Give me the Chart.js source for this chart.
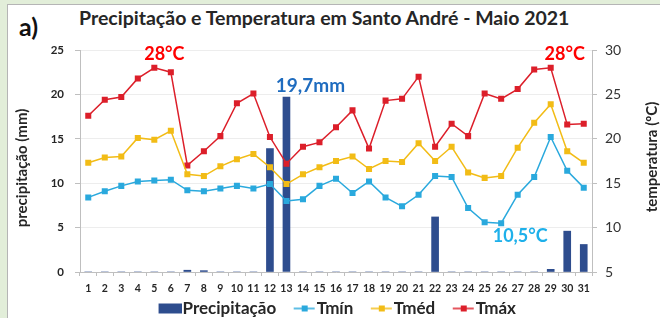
<!DOCTYPE html>
<html lang="pt">
<head>
<meta charset="UTF-8">
<title>Precipitação e Temperatura - Santo André</title>
<script src="https://cdn.jsdelivr.net/npm/chart.js"></script>
<style>
  body { margin: 0; width: 660px; height: 318px; overflow: hidden; background: #e2eed9; font-family: Lato, sans-serif; }
  #panel { position: absolute; left: 7px; top: 4px; right: 0; bottom: 0; background: #fff; border-left: 1px solid #b5b5b5; border-top: 1px solid #b5b5b5; }
  #chartBox { position: absolute; left: 0; top: 0; width: 660px; height: 318px; }
  #tag { position: absolute; left: 19px; top: 11px; font: bold 25px Lato, sans-serif; color: #111; }
  #title { position: absolute; left: 79px; top: 6px; font: bold 19.5px Lato, sans-serif; color: #262626; white-space: nowrap; }
</style>
</head>
<body>
<div id="panel"></div>
<div id="tag">a)</div>
<div id="title">Precipitação e Temperatura em Santo André - Maio 2021</div>
<div id="chartBox"><canvas id="chart" width="660" height="318"></canvas></div>

<script>
// days of May 2021
const days = ['1','2','3','4','5','6','7','8','9','10','11','12','13','14','15','16',
              '17','18','19','20','21','22','23','24','25','26','27','28','29','30','31'];

// precipitation (mm)
const precip = [0, 0, 0, 0, 0, 0, 0.2, 0.15, 0, 0, 0, 13.9, 19.7, 0, 0, 0,
                0, 0, 0, 0, 0, 6.2, 0, 0, 0, 0, 0, 0, 0.3, 4.6, 3.1];

// temperatures (ºC)
const tmin = [13.4, 14.1, 14.7, 15.2, 15.3, 15.4, 14.2, 14.1, 14.4, 14.7, 14.4, 14.9, 13.0, 13.2, 14.7, 15.5,
              13.9, 15.2, 13.4, 12.4, 13.7, 15.8, 15.7, 12.2, 10.6, 10.5, 13.7, 15.7, 20.2, 16.4, 14.5];
const tmed = [17.3, 17.9, 18.0, 20.1, 19.9, 20.9, 16.0, 15.8, 16.9, 17.7, 18.3, 16.8, 14.9, 16.0, 16.8, 17.5,
              18.0, 16.6, 17.5, 17.4, 19.5, 17.5, 19.1, 16.2, 15.6, 15.8, 19.0, 21.8, 23.9, 18.6, 17.3];
const tmax = [22.6, 24.4, 24.7, 26.8, 28.0, 27.5, 17.0, 18.6, 20.3, 24.0, 25.1, 20.2, 17.2, 19.1, 19.6, 21.3,
              23.2, 18.9, 24.3, 24.5, 27.0, 19.1, 21.7, 20.3, 25.1, 24.5, 25.6, 27.8, 28.0, 21.6, 21.7];

const precipTicks = [0, 5, 10, 15, 20, 25];
const tempTicks = [5, 10, 15, 20, 25, 30];

const colors = { bar: '#2e4d8e', tmin: '#2aa9dd', tmed: '#f2bc16', tmax: '#dc1f2a' };

// legend icons: blank room on the left, mark sits just before the text
function makeIcon(kind, color) {
  const c = document.createElement('canvas');
  c.width = 45; c.height = 14;
  const g = c.getContext('2d');
  if (kind === 'bar') {
    g.fillStyle = color;
    g.fillRect(22, 2, 23, 10);
  } else {
    g.strokeStyle = color; g.lineWidth = 1.5;
    g.beginPath(); g.moveTo(23, 7); g.lineTo(44, 7); g.stroke();
    g.fillStyle = color;
    g.fillRect(31, 4, 6, 6);
  }
  return c;
}
const icons = [makeIcon('bar', colors.bar), makeIcon('line', colors.tmin),
               makeIcon('line', colors.tmed), makeIcon('line', colors.tmax)];

const extras = {
  id: 'extras',
  afterDraw(chart) {
    const { ctx, scales: { x, y, y1 } } = chart;
    ctx.save();
    ctx.textAlign = 'center';
    ctx.textBaseline = 'middle';

    ctx.fillStyle = '#ff0000';
    ctx.font = 'bold 18px Lato';
    ctx.fillText('28°C', x.getPixelForValue(4) + 10, y1.getPixelForValue(29.5));
    ctx.fillText('28°C', x.getPixelForValue(28) + 14, y1.getPixelForValue(29.5));

    ctx.fillStyle = '#1f6cbf';
    ctx.font = 'bold 19px Lato';
    ctx.fillText('19,7mm', x.getPixelForValue(12) + 24, y.getPixelForValue(21));

    ctx.fillStyle = '#1eb0ea';
    ctx.font = 'bold 18px Lato';
    ctx.fillText('10,5°C', x.getPixelForValue(25) + 19, y1.getPixelForValue(9));

    // axis titles, both read bottom to top
    ctx.fillStyle = '#262626';
    ctx.font = 'bold 15px Lato';
    ctx.translate(22, 168);
    ctx.rotate(-Math.PI / 2);
    ctx.fillText('precipitação (mm)', 0, 0);
    ctx.restore();

    ctx.save();
    ctx.fillStyle = '#262626';
    ctx.font = 'bold 15px Lato';
    ctx.textAlign = 'center';
    ctx.textBaseline = 'middle';
    ctx.translate(652, 157);
    ctx.rotate(-Math.PI / 2);
    ctx.fillText('temperatura (ºC)', 0, 0);
    ctx.restore();
  }
};

const lineSet = (label, data, color) => ({
  type: 'line',
  label: label,
  data: data,
  yAxisID: 'y1',
  borderColor: color,
  backgroundColor: color,
  borderWidth: 1.5,
  pointStyle: 'rect',
  pointRadius: 3.2,
  pointHoverRadius: 3.2,
  tension: 0,
  order: 0
});

new Chart(document.getElementById('chart'), {
  type: 'bar',
  data: {
    labels: days,
    datasets: [
      { label: 'Precipitação', data: precip, yAxisID: 'y', backgroundColor: colors.bar,
        barThickness: 7, order: 1 },
      lineSet('Tmín', tmin, colors.tmin),
      lineSet('Tméd', tmed, colors.tmed),
      lineSet('Tmáx', tmax, colors.tmax)
    ]
  },
  options: {
    responsive: false,
    animation: false,
    layout: { padding: { top: 50, bottom: -9, left: 0, right: 0 } },
    plugins: {
      tooltip: { enabled: false },
      legend: {
        position: 'bottom',
        labels: {
          usePointStyle: true,
          pointStyleWidth: 30,
          padding: 2,
          color: '#262626',
          font: { family: 'Lato', size: 17, weight: 'bold' },
          sort: (a, b) => a.datasetIndex - b.datasetIndex,
          generateLabels(chart) {
            const items = Chart.defaults.plugins.legend.labels.generateLabels(chart);
            items.forEach(it => { it.pointStyle = icons[it.datasetIndex]; });
            return items;
          }
        }
      }
    },
    scales: {
      x: {
        offset: true,
        grid: { offset: true, drawOnChartArea: false, tickLength: 4, color: '#bfbfbf' },
        border: { color: '#bfbfbf' },
        ticks: { color: '#262626', padding: 6, maxRotation: 0, autoSkip: false,
                 font: { family: 'Lato', size: 10.5, weight: 'bold' } },
        afterFit(s) { s.height = 26; }
      },
      y: {
        position: 'left',
        min: 0, max: 25,
        afterBuildTicks(s) { s.ticks = precipTicks.map(v => ({ value: v })); },
        grid: { color: '#ededed', tickLength: 5, tickColor: '#bfbfbf' },
        border: { color: '#bfbfbf' },
        ticks: { color: '#262626', padding: 11, font: { family: 'Lato', size: 11.5, weight: 'bold' } },
        afterFit(s) { s.width = 80; }
      },
      y1: {
        position: 'right',
        min: 5, max: 30,
        afterBuildTicks(s) { s.ticks = tempTicks.map(v => ({ value: v })); },
        grid: { drawOnChartArea: false, tickLength: 5, color: '#bfbfbf' },
        border: { color: '#bfbfbf' },
        ticks: { color: '#333', padding: 8, font: { family: 'Lato', size: 14 } },
        afterFit(s) { s.width = 68; }
      }
    }
  },
  plugins: [extras]
});
</script>
</body>
</html>
